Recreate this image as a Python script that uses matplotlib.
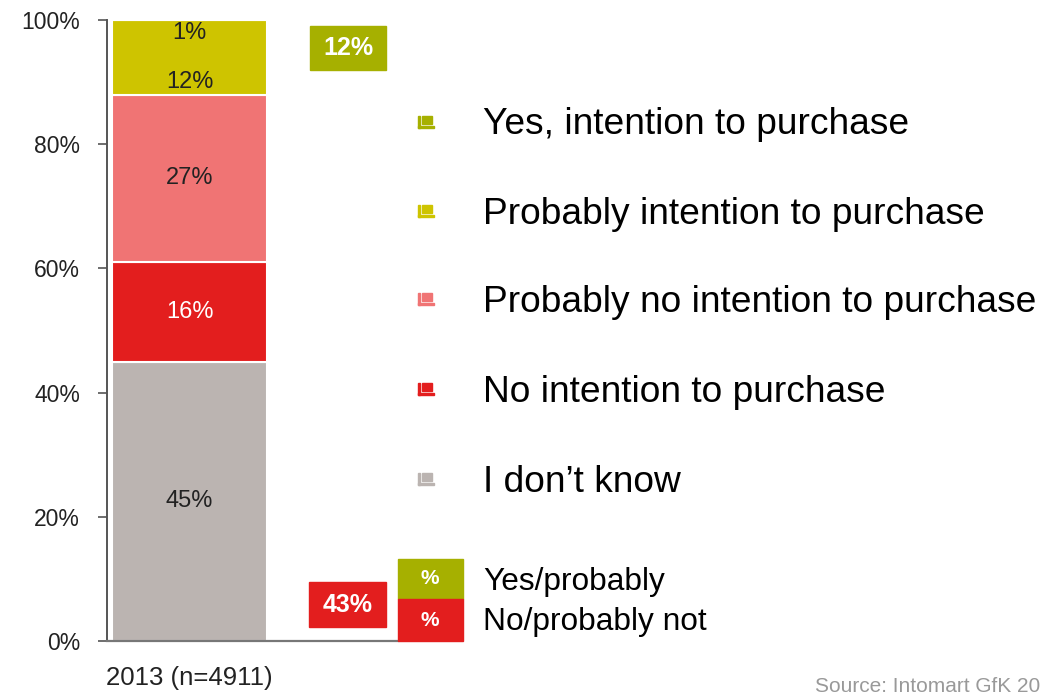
import matplotlib
matplotlib.use("Agg")
import matplotlib.pyplot as plt
from matplotlib.patches import Rectangle

plt.rcParams['font.family'] = ['Liberation Sans', 'DejaVu Sans']

category = ["2013 (n=4911)"]
series_names = ["I don\u2019t know", "No intention to purchase",
                "Probably no intention to purchase",
                "Probably intention to purchase", "Yes, intention to purchase"]
series_values = [45, 16, 27, 12, 1]
series_colors = ["#BBB4B1", "#E31E1E", "#F07474", "#CEC400", "#A6B000"]
label_colors = ["#222222", "#FFFFFF", "#222222", "#222222", "#222222"]
yes_probably = 12
no_probably = 43
yticks = [0, 20, 40, 60, 80, 100]
ytick_labels = ["0%", "20%", "40%", "60%", "80%", "100%"]
legend_order = ["Yes, intention to purchase", "Probably intention to purchase",
                "Probably no intention to purchase", "No intention to purchase",
                "I don\u2019t know"]
source_text = "Source: Intomart GfK 20"

W, H = 1043, 694
fig = plt.figure(figsize=(W / 100, H / 100), dpi=100)
ax = fig.add_axes([107 / W, 1 - 641 / H, (398 - 107) / W, (641 - 20) / H])

bar_w = 0.8
bottom = 0
for name, v, c in zip(series_names, series_values, series_colors):
    ax.bar(0, v, width=bar_w, bottom=bottom, color=c, edgecolor="white",
           linewidth=1.5)
    bottom += v

# segment labels
cum = 0
for i, (v, lc) in enumerate(zip(series_values[:4], label_colors[:4])):
    ypos = cum + v / 2 if i < 3 else cum + 2.0
    ax.text(0, ypos, f"{v}%", ha="center", va="center", fontsize=17, color=lc)
    cum += v
ax.text(0, 97.9, f"{series_values[4]}%", ha="center", va="center",
        fontsize=17, color="#222222")

ax.set_ylim(0, 100)
ax.set_xlim(-0.426, 1.075)
ax.set_yticks(yticks)
ax.set_yticklabels(ytick_labels, fontsize=16.5, color="#222222")
ax.set_xticks([0])
ax.set_xticklabels(category, fontsize=18.5, color="#222222")
ax.tick_params(axis="x", length=0, pad=18)
ax.tick_params(axis="y", length=6.5, width=1.2, color="#555555", pad=13)
ax.spines["top"].set_visible(False)
ax.spines["right"].set_visible(False)
ax.spines["left"].set_color("#555555")
ax.spines["bottom"].set_color("#777777")
ax.spines["left"].set_linewidth(1.4)
ax.spines["bottom"].set_linewidth(1.6)

# summary boxes
def fig_rect(x0, y0, x1, y1, color):
    fig.patches.append(Rectangle((x0 / W, 1 - y1 / H), (x1 - x0) / W, (y1 - y0) / H,
                                 transform=fig.transFigure, color=color, zorder=3))

fig_rect(310, 26, 386, 70, "#A6B000")
fig.text(348 / W, 1 - 48 / H, f"{yes_probably}%", ha="center", va="center",
         fontsize=18, color="white", fontweight="bold", zorder=4)
fig_rect(309, 582, 386, 627, "#E31E1E")
fig.text(348 / W, 1 - 605 / H, f"{no_probably}%", ha="center", va="center",
         fontsize=18, color="white", fontweight="bold", zorder=4)

# main legend
legend_y = [125, 214, 302, 392, 482]
color_map = dict(zip(series_names, series_colors))
for name, y in zip(legend_order, legend_y):
    c = color_map[name]
    fig_rect(418, y - 9, 420, y + 3, c)
    fig_rect(418, y + 1, 434, y + 3, c)
    fig_rect(422, y - 9, 432, y - 1, c)
    fig.text(483 / W, 1 - y / H, name, ha="left", va="center",
             fontsize=26.7, color="black")

# bottom legend
fig_rect(398, 559, 463, 599, "#A6B000")
fig_rect(398, 599, 463, 641, "#E31E1E")
fig.text(430 / W, 1 - 578 / H, "%", ha="center", va="center", fontsize=15,
         color="white", fontweight="bold")
fig.text(430 / W, 1 - 620 / H, "%", ha="center", va="center", fontsize=15,
         color="white", fontweight="bold")
fig.text(483 / W, 1 - 582 / H, "Yes/probably", ha="left", va="center",
         fontsize=22.8, color="black")
fig.text(483 / W, 1 - 622 / H, "No/probably not", ha="left", va="center",
         fontsize=22.8, color="black")

fig.text(1040 / W, 1 - 686 / H, source_text, ha="right",
         va="center", fontsize=15, color="#999999")

fig.savefig("out.png", dpi=100)
